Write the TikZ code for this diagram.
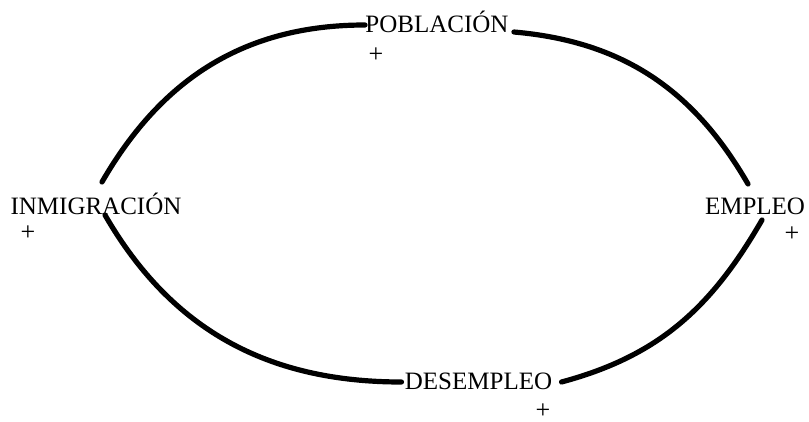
\documentclass[tikz,border=0pt]{standalone}
\usepackage{fontspec}
\setmainfont{Liberation Serif}
\begin{document}
\begin{tikzpicture}[x=0.5pt,y=-0.5pt,
  var/.style={inner sep=0pt,anchor=base,font=\fontsize{12.5}{15}\selectfont},
  signo/.style={inner sep=0pt,anchor=base,font=\fontsize{13}{15}\selectfont},
  enlace/.style={line width=2.6pt,line cap=round}]
\useasboundingbox (0,0) rectangle (809,422);
\node[var] (pob) at (437,33) {POBLACIÓN};
\node[var] (inm) at (96,215) {INMIGRACIÓN};
\node[var] (emp) at (755,215) {EMPLEO};
\node[var] (des) at (478.5,389) {DESEMPLEO};
\node[signo] (spob) at (376,63) {+};
\node[signo] (sinm) at (28,241) {+};
\node[signo] (semp) at (792,242) {+};
\node[signo] (sdes) at (543,418) {+};
\draw[enlace] ([xshift=3pt,yshift=16.5pt]inm.base) to[out=60,in=180] ([yshift=4pt]pob.base west);
\draw[enlace] ([xshift=2.5pt,yshift=0.5pt]pob.base east) to[out=-5,in=120] ([xshift=-3.5pt,yshift=15.5pt]emp.base);
\draw[enlace] ([xshift=4.5pt,yshift=3.5pt]des.base east) to[out=15,in=-120] ([xshift=3.5pt,yshift=-2.5pt]emp.base);
\draw[enlace] ([xshift=4.5pt]inm.base) to[out=-60,in=180] ([xshift=-1.5pt,yshift=3.5pt]des.base west);
\end{tikzpicture}
\end{document}
